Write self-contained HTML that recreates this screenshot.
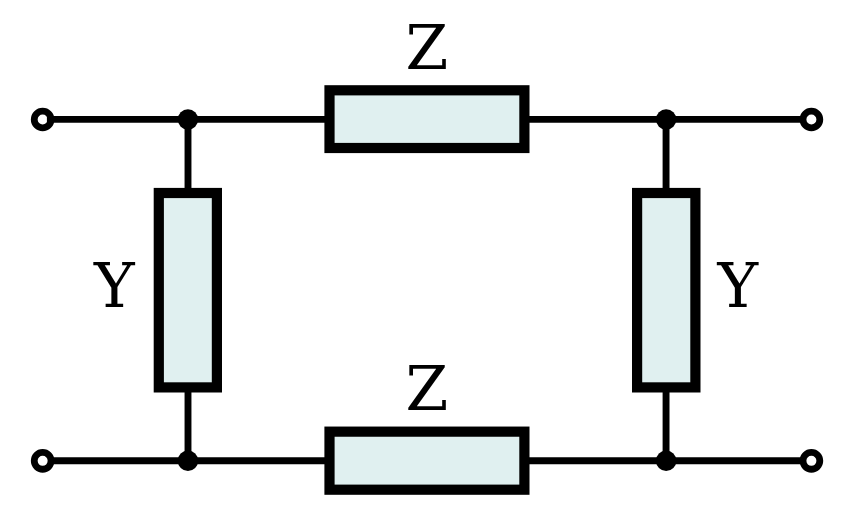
<!DOCTYPE html>
<html lang="en">
<head>
<meta charset="utf-8">
<title>Pi network: Y Z Y</title>
<style>
  html, body { margin: 0; padding: 0; background: #ffffff; }
  body { width: 854px; height: 512px; overflow: hidden; }
  svg { display: block; }
  .lbl { font-family: "DejaVu Serif", "Liberation Serif", serif; font-size: 61.5px; fill: #000000; }
</style>
</head>
<body>
<svg width="854" height="512" viewBox="0 0 854 512">
  <rect x="0" y="0" width="854" height="512" fill="#ffffff"/>
  <g fill="none" stroke="#000000" stroke-width="6.9">
    <line x1="47.4" y1="119.35" x2="330" y2="119.35"/>
    <line x1="524" y1="119.35" x2="806" y2="119.35"/>
    <line x1="47.4" y1="460.8" x2="330" y2="460.8"/>
    <line x1="524" y1="460.8" x2="806" y2="460.8"/>
    <line x1="188" y1="119.35" x2="188" y2="193"/>
    <line x1="188" y1="387" x2="188" y2="461"/>
    <line x1="666.05" y1="119.35" x2="666.05" y2="193"/>
    <line x1="666.05" y1="387" x2="666.05" y2="461"/>
  </g>
  <g fill="#e0f0f0" stroke="#000000" stroke-width="10.2">
    <rect x="329.5" y="90.3" width="194.9" height="57.7"/>
    <rect x="329.5" y="431.65" width="194.9" height="58.05"/>
    <rect x="158.8" y="193" width="58.1" height="194.4"/>
    <rect x="637.1" y="193" width="58.3" height="194.4"/>
  </g>
  <g fill="#000000" stroke="none">
    <circle cx="187.95" cy="119.45" r="10.2"/>
    <circle cx="666.15" cy="119.45" r="10.2"/>
    <circle cx="187.95" cy="460.7" r="10.2"/>
    <circle cx="666.15" cy="460.7" r="10.2"/>
  </g>
  <g fill="#ffffff" stroke="#000000" stroke-width="6.8">
    <circle cx="42.65" cy="119.5" r="8.4"/>
    <circle cx="811.4" cy="119.5" r="8.4"/>
    <circle cx="42.65" cy="460.85" r="8.4"/>
    <circle cx="811.4" cy="460.85" r="8.4"/>
  </g>
  <line x1="46.9" y1="119.35" x2="52" y2="119.35" stroke="#000000" stroke-width="6.9"/>
  <text class="lbl" x="405.6" y="68.7">Z</text>
  <text class="lbl" x="405.6" y="409.6">Z</text>
  <text class="lbl" x="94.1" y="306.9">Y</text>
  <text class="lbl" x="717.5" y="306.9">Y</text>
</svg>
</body>
</html>
